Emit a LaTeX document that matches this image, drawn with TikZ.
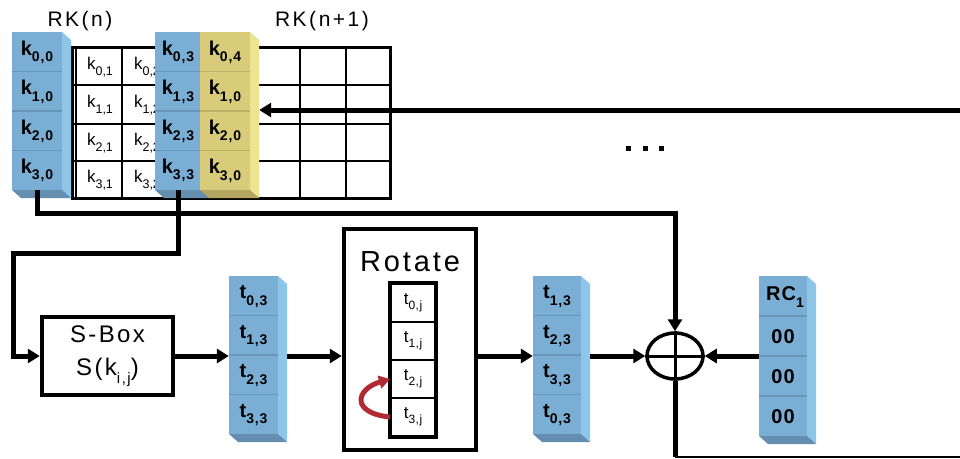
\documentclass[tikz,border=0pt]{standalone}
\usepackage{fontspec}
\setmainfont{Liberation Sans}
\usetikzlibrary{arrows.meta,fit,shapes.geometric}
\definecolor{blueF}{RGB}{122,174,212}
\definecolor{blueS}{RGB}{141,198,233}
\definecolor{blueB}{RGB}{100,142,176}
\definecolor{blueD}{RGB}{104,150,186}
\definecolor{yelF}{RGB}{216,204,122}
\definecolor{yelS}{RGB}{236,228,142}
\definecolor{yelB}{RGB}{178,166,96}
\definecolor{yelD}{RGB}{190,178,104}
\definecolor{rotred}{RGB}{176,42,52}
\newcommand{\lsub}[2]{\raisebox{-0.32em}{\fontsize{#1}{#1}\selectfont #2}}
\newcommand{\slab}[5]{%
  \fill[#5S] (#3,#2) -- ({#3+9},{#2+8}) -- ({#3+9},{#4+8}) -- (#3,#4) -- cycle;
  \fill[#5B] (#1,#4) -- (#3,#4) -- ({#3+9},{#4+8}) -- ({#1+9},{#4+8}) -- cycle;
  \fill[#5F] (#1,#2) rectangle (#3,#4);
  \foreach \i in {1,2,3}
    \draw[#5D, line width=1.2pt] (#1,{#2+\i*(#4-#2)/4}) -- (#3,{#2+\i*(#4-#2)/4});
}
\tikzset{
  title/.style={font=\fontsize{21}{21}\selectfont\addfontfeatures{LetterSpace=12}, inner sep=0},
  bcell/.style={font=\fontsize{20}{20}\selectfont\bfseries\addfontfeatures{LetterSpace=6}, inner sep=0},
  wcell/.style={font=\fontsize{17}{17}\selectfont, inner sep=0},
  rcell/.style={draw, line width=2pt, minimum width=44pt, minimum height=38pt, inner sep=0,
    font=\fontsize{17}{17}\selectfont\addfontfeatures{LetterSpace=4}},
  wire/.style={line width=5pt},
  tip/.style={-{Triangle[length=12pt,width=14pt]}},
  box/.style={draw, line width=4.5pt, inner sep=0},
  colfit/.style={inner sep=0}
}
\begin{document}
\begin{tikzpicture}[x=1pt,y=-1pt]
\useasboundingbox (0,0) rectangle (960,458);
% titles
\node[title] (rkn) at (80,21) {RK(n)};
\node[title] (rkn1) at (322,21) {RK(n+1)};
% grid
\draw[line width=3pt] (72,47) rectangle (390,198);
\foreach \y in {85,124,161} \draw[line width=2.2pt] (72,\y) -- (390,\y);
\foreach \x in {76,122,168,214,258,300,346} \draw[line width=2.2pt] (\x,47) -- (\x,198);
% white cells
\node[wcell] (k01) at (100,67) {k\lsub{12.5}{0,1}};
\node[wcell] (k11) at (100,105) {k\lsub{12.5}{1,1}};
\node[wcell] (k21) at (100,143) {k\lsub{12.5}{2,1}};
\node[wcell] (k31) at (100,180) {k\lsub{12.5}{3,1}};
\node[wcell] (k02) at (147,67) {k\lsub{12.5}{0,2}};
\node[wcell] (k12) at (147,105) {k\lsub{12.5}{1,2}};
\node[wcell] (k22) at (147,143) {k\lsub{12.5}{2,2}};
\node[wcell] (k32) at (147,180) {k\lsub{12.5}{3,2}};
% coloured key columns
\slab{12}{32}{62}{190}{blue}
\slab{155}{32}{202}{190}{blue}
\slab{200}{32}{250}{190}{yel}
\node[colfit, fit={(200,32) (259,198)}] (yc) {};
\node[bcell, minimum width=50pt, minimum height=39.5pt] (k00) at (37,52.5) {k\lsub{14}{0,0}};
\node[bcell, minimum width=50pt, minimum height=39.5pt] (k10) at (37,92) {k\lsub{14}{1,0}};
\node[bcell, minimum width=50pt, minimum height=39.5pt] (k20) at (37,131.5) {k\lsub{14}{2,0}};
\node[bcell, minimum width=50pt, minimum height=39.5pt] (k30) at (37,170.25) {k\lsub{14}{3,0}};
\node[bcell, minimum width=45pt, minimum height=39.5pt] (k03) at (178,52.5) {k\lsub{14}{0,3}};
\node[bcell, minimum width=45pt, minimum height=39.5pt] (k13) at (178,92) {k\lsub{14}{1,3}};
\node[bcell, minimum width=45pt, minimum height=39.5pt] (k23) at (178,131.5) {k\lsub{14}{2,3}};
\node[bcell, minimum width=45pt, minimum height=39.5pt] (k33) at (178,170.25) {k\lsub{14}{3,3}};
\node[bcell] (k04) at (225,52.5) {k\lsub{14}{0,4}};
\node[bcell] (y10) at (225,92) {k\lsub{14}{1,0}};
\node[bcell] (y20) at (225,131.5) {k\lsub{14}{2,0}};
\node[bcell] (y30) at (225,171) {k\lsub{14}{3,0}};
% dots
\fill (626,146) rectangle ++(5,5);
\fill (643,146) rectangle ++(5,5);
\fill (659,146) rectangle ++(5,5);
% S-Box
\node[box, minimum width=131pt, minimum height=78pt, align=center,
  font=\fontsize{24}{33}\selectfont\addfontfeatures{LetterSpace=10}] (sbox) at (107.5,356)
  {S-Box\\S(k\lsub{15}{i,j})};
% t column A
\slab{229}{276}{278}{434}{blue}
\node[colfit, fit={(229,276) (287,442)}] (tA) {};
\node[bcell] (ta0) at (253.5,296.5) {t\lsub{14}{0,3}};
\node[bcell] (ta1) at (253.5,336) {t\lsub{14}{1,3}};
\node[bcell] (ta2) at (253.5,375.5) {t\lsub{14}{2,3}};
\node[bcell] (ta3) at (253.5,415) {t\lsub{14}{3,3}};
% Rotate
\node[box, minimum width=132pt, minimum height=221pt] (rot) at (410,339.5) {};
\node[font=\fontsize{29}{29}\selectfont\addfontfeatures{LetterSpace=10}, inner sep=0] (rottxt) at (410,262) {Rotate};
\node[rcell] (t0j) at (413,303) {t\lsub{12}{0,j}};
\node[rcell] (t1j) at (413,341) {t\lsub{12}{1,j}};
\node[rcell] (t2j) at (413,379) {t\lsub{12}{2,j}};
\node[rcell] (t3j) at (413,417) {t\lsub{12}{3,j}};
\node[draw, line width=4pt, inner sep=0, fit=(t0j) (t3j)] (rcol) {};
\draw[rotred, line width=5pt, -{Triangle[length=11pt,width=13pt]}]
  (t3j.west) .. controls +(-40,-4) and +(-34,10) .. (t2j.west);
% t column B
\slab{533}{276}{581}{434}{blue}
\node[colfit, fit={(533,276) (590,442)}] (tB) {};
\node[bcell] (tb0) at (557,296.5) {t\lsub{14}{1,3}};
\node[bcell] (tb1) at (557,336) {t\lsub{14}{2,3}};
\node[bcell] (tb2) at (557,375.5) {t\lsub{14}{3,3}};
\node[bcell] (tb3) at (557,415) {t\lsub{14}{0,3}};
% XOR
\node[ellipse, draw, line width=3.5pt, minimum width=56pt, minimum height=46pt, inner sep=0] (xor) at (675,356) {};
\draw[line width=3pt] (xor.north) -- (xor.south) (xor.west) -- (xor.east);
% RC column
\slab{759}{276}{807}{436}{blue}
\node[colfit, fit={(759,276) (816,444)}] (rc) {};
\node[bcell] (rc0) at (785,297) {RC\lsub{14}{1}};
\node[bcell] (rc1) at (783,337) {00};
\node[bcell] (rc2) at (783,377) {00};
\node[bcell] (rc3) at (783,417) {00};
% connectors
\coordinate (bendA) at (675,213);
\coordinate (bendB) at (13,253);
\coordinate (inR) at (960,110);
\coordinate (outB) at (960,457);
\draw[wire, tip] (k30.south) |- (bendA) -- (xor.north);
\draw[wire, tip] (k33.south) |- (bendB) |- (sbox.west);
\draw[wire, tip] (inR) -- (inR -| yc.east);
\draw[wire, tip] (sbox.east) -- (sbox.east -| tA.west);
\draw[wire, tip] (tA.east |- xor) -- (rot.west |- xor);
\draw[wire, tip] (rot.east |- xor) -- (tB.west |- xor);
\draw[wire, tip] (tB.east |- xor) -- (xor.west);
\draw[wire, tip] (rc.west |- xor) -- (xor.east);
\draw[wire] (xor.south) -- (xor.south |- outB);
\draw[line width=1.5pt] (xor.south |- outB) -- (outB);
\end{tikzpicture}
\end{document}
